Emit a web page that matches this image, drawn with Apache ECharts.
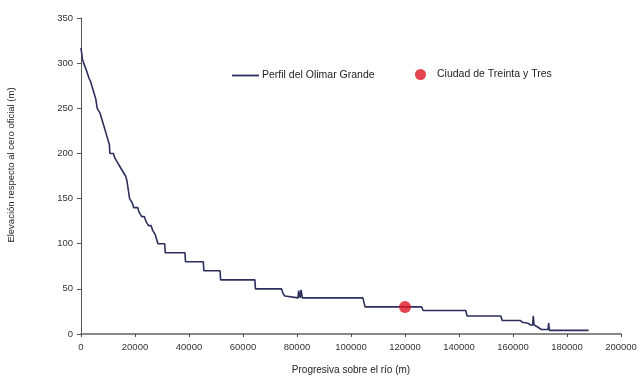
<!DOCTYPE html>
<html>
<head>
<meta charset="utf-8">
<script src="https://cdn.jsdelivr.net/npm/echarts@6/dist/echarts.min.js"></script>
<style>
html,body{margin:0;padding:0;background:#fff;}
#c{width:640px;height:380px;}
</style>
</head>
<body>
<div id="c"></div>
<script>
// Progresiva (m) and elevation (m) of the river profile
var profileX = [0, 500, 1000, 2000, 3000, 3500, 4500, 5500, 6000, 7000, 7500, 8500, 9500, 10500, 10700, 12000, 12500, 13500, 14500, 15500, 16500, 17000, 17500, 18000, 19000, 19500, 21000, 21500, 22500, 23500, 24000, 25000, 26000, 26500, 27500, 28000, 28500, 31000, 31200, 38500, 38700, 45300, 45500, 51500, 51700, 64400, 64600, 74300, 74800, 75500, 76200, 80400, 80600, 81200, 81500, 82000, 104400, 105200, 126200, 126700, 142500, 143000, 155500, 156000, 162600, 163500, 165500, 166500, 167300, 167500, 167800, 169000, 170500, 173000, 173200, 173500, 184500, 184800, 185100, 188000];
var profileY = [317, 305, 300, 292, 283, 280, 270, 260, 250, 245, 240, 230, 220, 210, 200, 200, 195, 190, 185, 180, 175, 170, 160, 150, 145, 140, 140, 135, 130, 130, 125, 120, 120, 115, 110, 105, 100, 100, 90, 90, 80, 80, 70, 70, 60, 60, 50, 50, 45, 42, 40, 40, 48, 40, 49, 40, 40, 30, 30, 26, 26, 20, 20, 15, 15, 13, 12, 10, 10, 20, 10, 8, 5, 5, 12, 4, 4, 5, 4, 4];
var cityX = [120000];
var cityY = [30];
var seriesNames = ['Perfil del Olimar Grande', 'Ciudad de Treinta y Tres'];
var xAxisTitle = 'Progresiva sobre el río (m)';
var yAxisTitle = 'Elevación respecto al cero oficial (m)';

var profile = profileX.map(function (x, i) { return [x, profileY[i]]; });
var city = cityX.map(function (x, i) { return [x, cityY[i]]; });

var font = 'Liberation Sans';
var chart = echarts.init(document.getElementById('c'));
chart.setOption({
  animation: false,
  backgroundColor: '#fff',
  textStyle: { fontFamily: font },
  grid: { left: 81, right: 19, top: 18, bottom: 45 },
  legend: [
    {
      data: [{ name: seriesNames[0], icon: 'path://M0,0L30,0L30,2L0,2Z' }],
      left: 227, top: 65, itemWidth: 27, itemHeight: 2,
      textStyle: { fontFamily: font, fontSize: 10.5, color: '#222', padding: [0, 0, 0, -2] }
    },
    {
      data: [{ name: seriesNames[1], icon: 'circle' }], left: 410, top: 64, itemWidth: 11, itemHeight: 11,
      textStyle: { fontFamily: font, fontSize: 10.5, color: '#222', padding: [0, 0, 0, 6] }
    }
  ],
  graphic: [{
    type: 'text', x: 11, y: 165, rotation: Math.PI / 2,
    style: { text: yAxisTitle, fontFamily: font, fontSize: 9.5, fill: '#222', align: 'center', verticalAlign: 'middle' }
  }],
  xAxis: {
    type: 'value', min: 0, max: 200000, interval: 20000,
    name: xAxisTitle, nameLocation: 'middle', nameGap: 31,
    nameTextStyle: { fontFamily: font, fontSize: 10, color: '#222' },
    axisLine: { show: true, onZero: false, lineStyle: { color: '#888', width: 2 } },
    axisTick: { show: true, inside: false, length: 3, lineStyle: { color: '#444' } },
    axisLabel: { fontFamily: font, fontSize: 9.5, color: '#333', margin: 8, formatter: function (v) { return String(v); } },
    splitLine: { show: false }
  },
  yAxis: {
    type: 'value', min: 0, max: 350, interval: 50,
    axisLine: { show: true, lineStyle: { color: '#555', width: 1 } },
    axisTick: { show: true, length: 4, lineStyle: { color: '#555' } },
    axisLabel: { fontFamily: font, fontSize: 9.5, color: '#333', margin: 8 },
    splitLine: { show: false }
  },
  series: [
    {
      name: seriesNames[0], type: 'line', data: profile, showSymbol: false, symbol: 'none',
      lineStyle: { color: '#2c2f5e', width: 1.6 }, itemStyle: { color: '#2c2f5e' }, z: 2
    },
    {
      name: seriesNames[1], type: 'scatter', data: city, symbolSize: 12,
      itemStyle: { color: '#e01522' }, z: 3
    }
  ]
});
</script>
</body>
</html>
